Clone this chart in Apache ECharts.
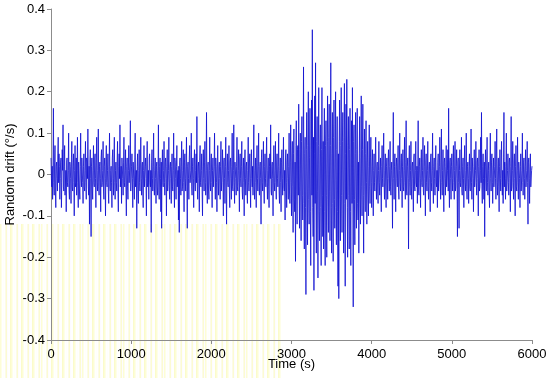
<!DOCTYPE html>
<html>
<head>
<meta charset="utf-8">
<script src="https://cdn.jsdelivr.net/npm/echarts@6/dist/echarts.min.js"></script>
<style>
  html, body { margin: 0; padding: 0; background: #fff; }
  #main { width: 550px; height: 378px; }
</style>
</head>
<body>
<div id="main"></div>
<script>
  // sample step of the drift record, seconds
  var stepSec = 5;
  // random drift, in 0.01 deg/s, one row = 100 s
  var driftCenti = [
    4,-1,-3,2,-6,1,16,-2,-5,3,7,-4,-8,2,3,-1,-4,5,9,-2,
    5,2,-6,-1,3,4,-8,-2,6,1,12,-3,-4,2,7,-5,-5,1,-9,3,
    4,-2,-3,1,10,-4,-6,3,2,-1,-7,4,8,-3,-4,2,5,-2,-10,1,
    7,-3,-2,4,-5,1,9,-2,-8,3,3,-4,-6,2,10,-1,-3,4,4,-2,
    -7,2,5,-3,-4,1,8,-2,-6,4,3,-1,11,-3,-5,2,-12,3,6,-1,
    -15,2,4,-3,-6,1,7,-2,-3,4,5,-1,-8,3,9,-2,-4,1,11,-3,
    -5,2,3,-1,-9,4,6,-3,-2,1,8,-4,-6,2,4,-1,-10,3,7,-2,
    -3,1,5,-4,-7,2,10,-3,-4,1,2,-2,-8,4,6,-1,-5,3,9,-2,
    -6,1,3,-2,-4,3,8,-4,-9,2,5,-1,12,-3,-3,2,-7,4,4,-1,
    -5,3,9,-2,-3,1,6,-4,-10,2,4,-3,-6,1,7,-2,-2,3,13,-4,
    -4,2,5,-1,-8,3,3,-2,-6,4,10,-3,-3,1,-13,2,5,-4,-7,1,
    6,-2,-4,3,9,-1,-5,2,3,-4,-8,1,7,-3,-3,2,4,-1,-10,3,
    8,-3,-2,1,-6,4,5,-2,-3,1,-14,3,6,-1,-4,2,10,-3,-5,1,
    4,-1,-7,2,3,-3,-5,1,12,-4,-6,2,4,-1,-9,3,-13,2,6,-2,
    -3,1,8,-2,-5,3,4,-1,-10,2,6,-4,-2,1,9,-3,-6,2,3,-1,
    -7,2,5,-3,-4,1,10,-2,-8,4,3,-1,-6,2,7,-3,-3,1,-11,2,
    -14,3,4,-1,-5,2,8,-4,-3,1,6,-2,-9,3,5,-1,-4,2,9,-3,
    -13,2,3,-1,-6,4,7,-2,-2,1,10,-3,-5,2,4,-1,-8,3,6,-2,
    -4,1,5,-2,14,-3,-6,2,3,-1,-9,4,7,-2,-3,1,5,-4,-10,2,
    6,-1,-4,3,8,-2,-5,1,15,-3,-7,2,3,-4,-6,1,9,-2,-4,3,
    5,-2,-8,1,4,-3,-3,2,10,-1,-6,4,2,-2,-9,3,7,-1,-5,2,
    3,-1,-6,2,8,-4,-4,1,6,-2,-10,3,4,-1,-7,2,9,-3,-12,1,
    5,-2,-3,1,7,-4,-8,3,4,-1,-6,2,10,-3,-4,1,12,-2,-7,3,
    3,-1,-5,2,9,-3,-4,1,6,-2,-9,4,5,-1,-3,2,8,-4,-6,1,
    4,-2,-10,3,6,-1,-5,2,3,-4,-7,1,9,-2,-4,3,5,-1,-8,2,
    6,-1,-3,2,-5,4,12,-3,-6,1,4,-2,-8,3,7,-1,-4,2,10,-3,
    -5,2,3,-1,-12,4,6,-2,-4,1,8,-3,-7,2,5,-1,-3,4,9,-2,
    -6,1,4,-3,-8,2,5,-1,12,-4,-5,2,3,-1,-10,3,7,-2,-4,1,
    8,-2,-6,3,5,-1,-3,2,10,-4,-7,1,4,-2,-9,3,6,-1,-5,2,
    9,-3,-4,1,-11,4,6,-2,-8,3,5,-1,-6,2,10,-4,-7,3,12,-2,
    -10,4,8,-3,-14,5,11,-6,-9,3,-21,7,13,-4,-12,6,7,-5,17,-3,
    -13,6,10,-4,-16,8,14,-5,-11,3,26,-7,-18,5,9,-8,-29,6,15,-4,
    -17,7,20,-6,-12,4,16,-9,-22,6,18,-5,35,-8,-15,9,-28,5,19,-7,
    27,-6,-19,8,14,-4,-25,7,21,-9,-16,5,12,-8,-22,6,21,-5,-15,8,
    -18,6,16,-9,-22,7,13,-5,-20,8,19,-6,-14,9,17,-4,-16,7,27,-8,
    -19,5,15,-7,-21,9,18,-6,-13,4,20,-8,-17,6,14,-9,-27,5,-30,8,
    18,-6,-16,7,21,-5,-14,8,15,-4,-19,9,22,-7,-27,5,17,-6,23,-8,
    -20,7,14,-5,-18,6,16,-9,-22,4,13,-7,21,-5,-32,8,12,-6,-17,5,
    15,-4,-13,6,16,-7,-11,3,-19,5,14,-6,-12,4,19,-3,-10,6,17,-5,
    -19,4,11,-3,-9,5,13,-2,-12,3,8,-4,-10,2,12,-3,-7,4,9,-2,
    -8,2,6,-3,-10,1,5,-2,-4,3,9,-1,-6,2,3,-4,-7,1,8,-2,
    -5,1,4,-3,-9,2,7,-1,-3,4,10,-2,-6,1,5,-3,-8,2,4,-1,
    -6,3,6,-1,-4,2,8,-3,-5,1,3,-2,-13,4,15,-1,-6,2,5,-3,
    -9,2,4,-1,-3,3,7,-4,-6,1,10,-2,-4,3,5,-1,-8,2,6,-3,
    -4,1,9,-2,-6,3,13,-4,-5,2,4,-1,-18,3,7,-2,-5,1,8,-3,
    -6,2,3,-1,-9,4,5,-3,-4,1,8,-2,-3,2,-7,1,13,-4,-5,2,
    4,-1,-8,3,6,-2,-3,1,9,-4,-5,2,7,-1,-10,3,5,-2,-4,1,
    8,-3,-6,2,3,-1,-9,4,5,-2,-4,1,10,-3,-7,2,4,-1,-5,3,
    7,-2,-3,1,-8,3,5,-4,-4,2,9,-1,-6,3,11,-2,-5,1,6,-3,
    -9,3,4,-1,-5,2,7,-3,-3,1,6,-4,16,-2,-8,3,4,-1,-6,2,
    5,-1,-4,3,7,-2,-6,1,8,-4,-3,2,6,-1,-15,3,4,-2,-13,1,
    6,-2,-3,1,9,-4,-5,2,4,-1,-8,3,7,-2,-4,1,10,-3,-6,2,
    3,-1,-7,2,5,-3,-4,1,11,-2,-6,4,4,-1,-9,2,6,-3,-3,1,
    8,-2,-5,3,4,-1,-10,2,6,-4,-3,1,9,-2,15,-3,-7,2,5,-1,
    -6,3,-15,2,6,-1,-4,3,9,-2,-5,1,3,-4,-8,2,10,-1,-4,3,
    5,-2,-7,1,4,-3,-3,2,8,-1,-6,4,11,-2,-5,1,4,-3,-9,2,
    6,-1,-4,3,8,-2,-5,1,-7,4,15,-3,3,-1,-6,2,10,-4,-4,1,
    5,-2,-5,3,4,-1,-9,2,14,-4,-3,1,8,-2,-6,3,5,-1,-10,2,
    7,-3,-4,1,9,-2,-6,3,3,-1,-8,2,5,-4,-4,1,10,-2,-5,3,
    4,-1,-6,2,6,-3,-3,1,8,-2,-12,3,4,-1,-7,2,5,-3,-3,1,
    2
  ];
  var xTicks = [0, 1000, 2000, 3000, 4000, 5000, 6000];

  var seriesData = [];
  for (var i = 0; i < driftCenti.length; i++) {
    seriesData.push([i * stepSec, driftCenti[i] / 100]);
  }

  // faint yellow streaks seen in the lower-left of the scanned figure
  var streak = document.createElement('canvas');
  streak.width = 41; streak.height = 4;
  var sc = streak.getContext('2d');
  var cols = ['#fbfb9a', '#ffffff', '#f8f6c4', '#ffffff', '#f6f47e', '#fbf7ff', '#ffffff', '#fdfdc8', '#ffffff', '#f7f590', '#fffff4'];
  for (var c = 0; c < streak.width; c++) {
    sc.fillStyle = cols[(c * 7) % cols.length];
    sc.fillRect(c, 0, 1, 4);
  }

  var myChart = echarts.init(document.getElementById('main'));
  var option = {
    animation: false,
    backgroundColor: '#ffffff',
    graphic: [{
      type: 'rect',
      z: -10,
      silent: true,
      shape: { x: 0, y: 224, width: 282, height: 154 },
      style: { fill: { image: streak, repeat: 'repeat' }, opacity: 0.4 }
    }],
    grid: { left: 51, right: 18, top: 9, bottom: 38, outerBoundsMode: 'none', containLabel: false },
    xAxis: {
      type: 'value',
      min: 0,
      max: 6000,
      interval: 1000,
      name: 'Time (s)',
      nameLocation: 'middle',
      nameGap: 18,
      nameMoveOverlap: false,
      nameTextStyle: { fontFamily: 'Liberation Sans', fontSize: 13, color: '#000' },
      axisLine: { show: true, onZero: false, lineStyle: { color: '#8c8c8c', width: 1 } },
      axisTick: { show: true, inside: false, length: 4, lineStyle: { color: '#8c8c8c' } },
      axisLabel: {
        fontFamily: 'Liberation Sans', fontSize: 13, color: '#000', margin: 8,
        customValues: xTicks,
        formatter: function (v) { return String(v); }
      },
      splitLine: { show: false }
    },
    yAxis: {
      type: 'value',
      min: -0.4,
      max: 0.4,
      interval: 0.1,
      name: 'Random drift (\u00b0/s)',
      nameLocation: 'middle',
      nameGap: 34,
      nameMoveOverlap: false,
      nameTextStyle: { fontFamily: 'Liberation Sans', fontSize: 13, color: '#000' },
      axisLine: { show: true, lineStyle: { color: '#8c8c8c', width: 1 } },
      axisTick: { show: true, inside: false, length: 4, lineStyle: { color: '#8c8c8c' } },
      axisLabel: {
        fontFamily: 'Liberation Sans', fontSize: 13, color: '#000', margin: 6,
        formatter: function (v) {
          var r = Math.round(v * 10) / 10;
          return r === 0 ? '0' : r.toFixed(1);
        }
      },
      splitLine: { show: false }
    },
    series: [{
      type: 'line',
      data: seriesData,
      showSymbol: false,
      symbol: 'none',
      sampling: null,
      lineStyle: { color: '#0c0cd0', width: 0.8 },
      z: 2
    }]
  };
  myChart.setOption(option);
</script>
</body>
</html>
